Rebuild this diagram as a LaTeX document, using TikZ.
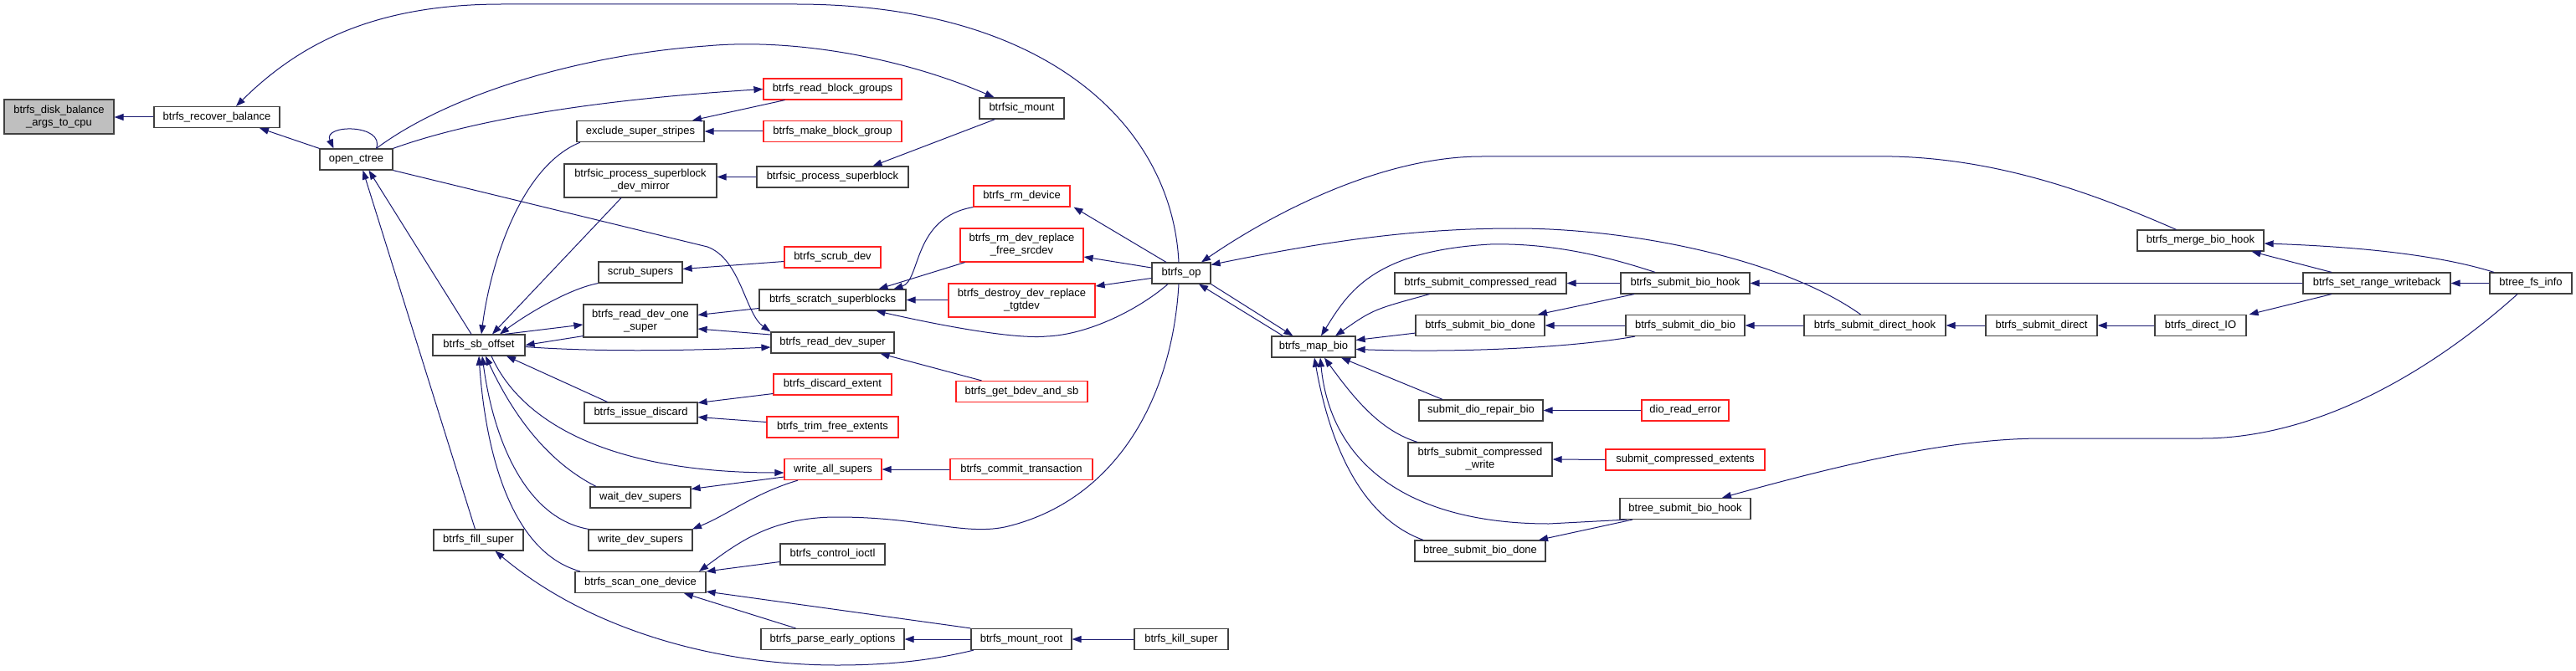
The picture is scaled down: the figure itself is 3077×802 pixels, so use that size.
\documentclass[tikz,border=0pt]{standalone}
\usepackage{fontspec}
\setmainfont{Liberation Sans}
\usetikzlibrary{arrows.meta,positioning}
\definecolor{cgBlue}{HTML}{191970}
\definecolor{cgBorder}{HTML}{404040}
\definecolor{cgTruncRed}{HTML}{FF2020}
\definecolor{cgRootFill}{HTML}{BFBFBF}
\tikzset{
    cgBoxBase/.style={
        rectangle,
        draw=cgBorder,
        fill=white,
        line width=1.2pt,
        inner sep=0pt,
        minimum height=25pt,
        align=center,
        font=\fontsize{13}{15}\selectfont
    },
    % node kinds
    cgNode/.style={cgBoxBase},
    cgTrunc/.style={cgBoxBase, draw=cgTruncRed},
    cgRoot/.style={cgBoxBase, fill=cgRootFill},
    % connectors
    cgEdge/.style={<-, >={Triangle[length=11pt,width=8pt]}, draw=cgBlue, line width=1pt}
}
\begin{document}
\begin{tikzpicture}[x=1pt,y=-1pt]
    \useasboundingbox (0,0) rectangle (3077,802);
    % column 1-3
    \node[cgRoot, minimum width=131pt, minimum height=41pt] (diskBalance) at (70.5,139.5) {btrfs\_disk\_balance\\\_args\_to\_cpu};
    \node[cgNode, minimum width=150pt] (recoverBalance) at (259,140) {btrfs\_recover\_balance};
    \node[cgNode, minimum width=87pt] (openCtree) at (425.5,190.5) {open\_ctree};
    \node[cgNode, minimum width=110pt] (sbOffset) at (572,412.5) {btrfs\_sb\_offset};
    \node[cgNode, minimum width=107pt] (fillSuper) at (571.5,645.5) {btrfs\_fill\_super};
    % column 4
    \node[cgNode, minimum width=152pt] (excludeStripes) at (765,157) {exclude\_super\_stripes};
    \node[cgNode, minimum width=182pt, minimum height=40pt] (devMirror) at (765,216) {btrfsic\_process\_superblock\\\_dev\_mirror};
    \node[cgNode, minimum width=100pt] (scrubSupers) at (765,325.5) {scrub\_supers};
    \node[cgNode, minimum width=136pt, minimum height=39pt] (readOneSuper) at (765,383.5) {btrfs\_read\_dev\_one\\\_super};
    \node[cgNode, minimum width=135pt] (issueDiscard) at (765.5,493.5) {btrfs\_issue\_discard};
    \node[cgNode, minimum width=120pt] (waitDevSupers) at (765,594.5) {wait\_dev\_supers};
    \node[cgNode, minimum width=124pt] (writeDevSupers) at (765,645.5) {write\_dev\_supers};
    \node[cgNode, minimum width=156pt] (scanOneDevice) at (765,696) {btrfs\_scan\_one\_device};
    % column 5
    \node[cgTrunc, minimum width=165pt] (readBlockGroups) at (994.5,106.5) {btrfs\_read\_block\_groups};
    \node[cgTrunc, minimum width=165pt] (makeBlockGroup) at (994.5,157) {btrfs\_make\_block\_group};
    \node[cgNode, minimum width=181pt] (procSuperblock) at (994.5,211.5) {btrfsic\_process\_superblock};
    \node[cgTrunc, minimum width=115pt] (scrubDev) at (994.5,307.5) {btrfs\_scrub\_dev};
    \node[cgNode, minimum width=175pt] (scratchSupers) at (994.5,358.5) {btrfs\_scratch\_superblocks};
    \node[cgNode, minimum width=147pt] (readDevSuper) at (994.5,409.5) {btrfs\_read\_dev\_super};
    \node[cgTrunc, minimum width=141pt] (discardExtent) at (994.5,459.5) {btrfs\_discard\_extent};
    \node[cgTrunc, minimum width=157pt] (trimFree) at (994.5,510.5) {btrfs\_trim\_free\_extents};
    \node[cgTrunc, minimum width=116pt] (writeAllSupers) at (995,561) {write\_all\_supers};
    \node[cgNode, minimum width=125pt] (controlIoctl) at (994.5,662.5) {btrfs\_control\_ioctl};
    \node[cgNode, minimum width=171pt] (parseEarly) at (994.5,764) {btrfs\_parse\_early\_options};
    % column 6
    \node[cgNode, minimum width=101pt] (sicMount) at (1220.5,129.5) {btrfsic\_mount};
    \node[cgTrunc, minimum width=115pt] (rmDevice) at (1220.5,234.5) {btrfs\_rm\_device};
    \node[cgTrunc, minimum width=147pt, minimum height=40pt] (freeSrcdev) at (1220.5,293) {btrfs\_rm\_dev\_replace\\\_free\_srcdev};
    \node[cgTrunc, minimum width=175pt, minimum height=40pt] (tgtdev) at (1220.5,359) {btrfs\_destroy\_dev\_replace\\\_tgtdev};
    \node[cgTrunc, minimum width=157pt] (getBdev) at (1220.5,468) {btrfs\_get\_bdev\_and\_sb};
    \node[cgTrunc, minimum width=170pt] (commitTrans) at (1220,561) {btrfs\_commit\_transaction};
    \node[cgNode, minimum width=120pt] (mountRoot) at (1220,764) {btrfs\_mount\_root};
    % column 7-8
    \node[cgNode, minimum width=70pt] (btrfsOp) at (1411,326.5) {btrfs\_op};
    \node[cgNode, minimum width=112pt] (killSuper) at (1411,764) {btrfs\_kill\_super};
    \node[cgNode, minimum width=100pt] (mapBio) at (1569,414.5) {btrfs\_map\_bio};
    % column 9
    \node[cgNode, minimum width=205pt] (compRead) at (1768.5,338.5) {btrfs\_submit\_compressed\_read};
    \node[cgNode, minimum width=154pt] (subBioDone) at (1768,389) {btrfs\_submit\_bio\_done};
    \node[cgNode, minimum width=148pt] (dioRepair) at (1769,490.5) {submit\_dio\_repair\_bio};
    \node[cgNode, minimum width=172pt, minimum height=40pt] (compWrite) at (1768,549) {btrfs\_submit\_compressed\\\_write};
    \node[cgNode, minimum width=156pt] (btreeBioDone) at (1768,658.5) {btree\_submit\_bio\_done};
    % column 10
    \node[cgNode, minimum width=154pt] (subBioHook) at (2013,338.5) {btrfs\_submit\_bio\_hook};
    \node[cgNode, minimum width=142pt] (subDioBio) at (2013,389) {btrfs\_submit\_dio\_bio};
    \node[cgTrunc, minimum width=104pt] (dioReadError) at (2013,490.5) {dio\_read\_error};
    \node[cgTrunc, minimum width=190pt] (compExtents) at (2013,549.5) {submit\_compressed\_extents};
    \node[cgNode, minimum width=156pt] (btreeBioHook) at (2013,608) {btree\_submit\_bio\_hook};
    % column 11-14
    \node[cgNode, minimum width=169pt] (directHook) at (2239.5,389) {btrfs\_submit\_direct\_hook};
    \node[cgNode, minimum width=133pt] (submitDirect) at (2438.5,389) {btrfs\_submit\_direct};
    \node[cgNode, minimum width=151pt] (mergeBioHook) at (2628.5,287.5) {btrfs\_merge\_bio\_hook};
    \node[cgNode, minimum width=109pt] (directIO) at (2628.5,389) {btrfs\_direct\_IO};
    \node[cgNode, minimum width=176pt] (setRangeWb) at (2839,338.5) {btrfs\_set\_range\_writeback};
    \node[cgNode, minimum width=98pt] (btreeFsInfo) at (3023,338.5) {btree\_fs\_info};

    % left part
    \draw[cgEdge] (diskBalance.east |- recoverBalance.west) -- (recoverBalance.west);
    \draw[cgEdge] ([xshift=51pt]recoverBalance.south) -- (openCtree.north west);
    \draw[cgEdge] ([xshift=23pt]recoverBalance.north) .. controls (360,50) and (450,5) .. (600,5) -- (950,5) .. controls (1250,5) and (1400,150) .. ([xshift=-3pt]btrfsOp.north);
    \draw[cgEdge] ([xshift=-27pt]openCtree.north) .. controls (385,148) and (460,148) .. ([xshift=24pt]openCtree.north);
    \draw[cgEdge] (readBlockGroups.west) .. controls (700,120) and (560,145) .. (openCtree.north east);
    \draw[cgEdge] ([xshift=-33pt]sicMount.north) .. controls (1080,70) and (950,45) .. (843,55) .. controls (700,65) and (540,110) .. ([xshift=24pt]openCtree.north);
    \draw[cgEdge] (readDevSuper.north west) .. controls (890,375) and (885,310) .. (845,295) -- (openCtree.south east);
    \draw[cgEdge] ([xshift=8pt]openCtree.south) -- ([xshift=-4pt]fillSuper.north);
    \draw[cgEdge] ([xshift=15pt]openCtree.south) -- ([xshift=-9pt]sbOffset.north);
    % superblock helpers
    \draw[cgEdge] ([xshift=62pt]excludeStripes.north) -- ([xshift=-57pt]readBlockGroups.south);
    \draw[cgEdge] (excludeStripes.east) -- (makeBlockGroup.west);
    \draw[cgEdge] ([xshift=3pt]sbOffset.north) .. controls (585,320) and (620,200) .. ([xshift=-72pt]excludeStripes.south);
    \draw[cgEdge] (devMirror.east |- procSuperblock.west) -- (procSuperblock.west);
    \draw[cgEdge] ([xshift=16pt]sbOffset.north) -- ([xshift=-23pt]devMirror.south);
    \draw[cgEdge] ([xshift=48pt]procSuperblock.north) -- ([xshift=-32pt]sicMount.south);
    \draw[cgEdge] ([yshift=4pt]scrubSupers.east) -- ([yshift=-5pt]scrubDev.west);
    \draw[cgEdge] ([xshift=25pt]sbOffset.north) .. controls (630,375) and (680,345) .. (scrubSupers.south west);
    \draw[cgEdge] ([yshift=-4.5pt]readOneSuper.west) -- ([xshift=31pt]sbOffset.north);
    \draw[cgEdge] (sbOffset.east) -- ([yshift=2pt]readOneSuper.south west);
    \draw[cgEdge] ([yshift=7pt]readOneSuper.east) -- ([yshift=-10pt]scratchSupers.west);
    \draw[cgEdge] ([yshift=-9.5pt]readOneSuper.east) -- ([yshift=9.5pt]readDevSuper.west);
    \draw[cgEdge] ([yshift=-5.5pt]readDevSuper.west) .. controls (800,420) and (700,420) .. ([yshift=-2pt]sbOffset.east);
    \draw[cgEdge] ([xshift=57pt]readDevSuper.south) -- ([xshift=-48pt]getBdev.north);
    \draw[cgEdge] ([xshift=73pt]scratchSupers.north) .. controls (1100,335) and (1090,260) .. (rmDevice.south west);
    \draw[cgEdge] ([xshift=55pt]scratchSupers.north) -- ([xshift=-68pt]freeSrcdev.south);
    \draw[cgEdge] (scratchSupers.east) -- (tgtdev.west |- scratchSupers.east);
    \draw[cgEdge] ([xshift=52pt]scratchSupers.south) .. controls (1150,395) and (1220,405) .. (1250,402) .. controls (1300,400) and (1360,370) .. ([xshift=-16pt]btrfsOp.south);
    % discard and super writing
    \draw[cgEdge] ([xshift=33pt]sbOffset.south) -- ([xshift=-40pt]issueDiscard.north);
    \draw[cgEdge] ([yshift=12pt]issueDiscard.east) -- ([yshift=-11pt]discardExtent.west);
    \draw[cgEdge] ([yshift=-5pt]issueDiscard.east) -- ([yshift=6pt]trimFree.west);
    \draw[cgEdge] ([yshift=-4pt]writeAllSupers.west) .. controls (720,565) and (620,500) .. ([xshift=15pt]sbOffset.south);
    \draw[cgEdge] ([xshift=8pt]sbOffset.south) .. controls (610,490) and (650,550) .. ([xshift=-53pt]waitDevSupers.north);
    \draw[cgEdge] ([xshift=4pt]sbOffset.south) .. controls (590,530) and (630,620) .. ([xshift=-62pt]writeDevSupers.north);
    \draw[cgEdge] (sbOffset.south) .. controls (580,540) and (610,660) .. ([xshift=-72pt]scanOneDevice.north);
    \draw[cgEdge] ([yshift=10pt]waitDevSupers.east) -- ([yshift=-9pt]writeAllSupers.west);
    \draw[cgEdge] ([xshift=62pt]writeDevSupers.north) .. controls (870,615) and (900,590) .. ([xshift=-42pt]writeAllSupers.south);
    \draw[cgEdge] (writeAllSupers.east) -- (commitTrans.west);
    % device scanning and mounting
    \draw[cgEdge] ([yshift=13pt]scanOneDevice.east) -- ([yshift=-9pt]controlIoctl.west);
    \draw[cgEdge] ([yshift=-11pt]scanOneDevice.east) -- (mountRoot.north west);
    \draw[cgEdge] ([xshift=52pt]scanOneDevice.south) -- ([xshift=-44pt]parseEarly.north);
    \draw[cgEdge] (parseEarly.east) -- (mountRoot.west);
    \draw[cgEdge] ([xshift=20pt]fillSuper.south) .. controls (700,750) and (850,795) .. (1000,795) .. controls (1080,795) and (1130,785) .. ([xshift=-57pt]mountRoot.south);
    \draw[cgEdge] (mountRoot.east) -- (killSuper.west);
    \draw[cgEdge] ([xshift=70pt]scanOneDevice.north) .. controls (880,650) and (920,618) .. (1000,618) .. controls (1100,618) and (1150,640) .. (1200,630) .. controls (1330,600) and (1400,480) .. ([xshift=-3pt]btrfsOp.south);
    % btrfs_op
    \draw[cgEdge] ([xshift=62pt]rmDevice.south) -- ([xshift=-18pt]btrfsOp.north);
    \draw[cgEdge] ([yshift=-14pt]freeSrcdev.east) -- ([yshift=6.5pt]btrfsOp.west);
    \draw[cgEdge] ([yshift=17pt]tgtdev.east) -- ([yshift=-6pt]btrfsOp.west);
    \draw[cgEdge] ([xshift=21pt]btrfsOp.south) -- ([xshift=14pt]mapBio.north west);
    \draw[cgEdge] ([xshift=26pt]mapBio.north west) -- (btrfsOp.south east);
    \draw[cgEdge] ([xshift=24pt]btrfsOp.north) .. controls (1520,255) and (1650,187) .. (1770,187) -- (2260,187) .. controls (2400,190) and (2520,240) .. ([xshift=-29pt]mergeBioHook.north);
    \draw[cgEdge] ([yshift=10pt]btrfsOp.east) .. controls (1600,285) and (1700,273) .. (1810,273) .. controls (1950,273) and (2130,310) .. ([xshift=-17pt]directHook.north);
    % btrfs_map_bio
    \draw[cgEdge] ([xshift=9pt]mapBio.north) .. controls (1610,350) and (1640,300) .. (1780,292) .. controls (1860,290) and (1930,310) .. ([xshift=-36pt]subBioHook.north);
    \draw[cgEdge] ([xshift=26pt]mapBio.north) .. controls (1640,370) .. ([xshift=-61pt]compRead.south);
    \draw[cgEdge] (compRead.east) -- (subBioHook.west);
    \draw[cgEdge] ([xshift=69pt]subBioDone.north) -- ([xshift=-61pt]subBioHook.south);
    \draw[cgEdge] (subBioDone.east) -- (subDioBio.west);
    \draw[cgEdge] ([yshift=8pt]mapBio.east) -- ([yshift=4pt]subBioDone.south west);
    \draw[cgEdge] ([yshift=-3pt]mapBio.east) .. controls (1750,422) and (1880,415) .. ([xshift=-60pt]subDioBio.south);
    \draw[cgEdge] (subDioBio.east) -- (directHook.west);
    \draw[cgEdge] (directHook.east) -- (submitDirect.west);
    \draw[cgEdge] (submitDirect.east) -- (directIO.west);
    \draw[cgEdge] ([xshift=33pt]mapBio.south) -- ([xshift=-46pt]dioRepair.north);
    \draw[cgEdge] (dioRepair.east) -- (dioReadError.west);
    \draw[cgEdge] ([xshift=13pt]mapBio.south) .. controls (1620,480) and (1650,515) .. ([xshift=-75pt]compWrite.north);
    \draw[cgEdge] (compWrite.east) -- (compExtents.west);
    \draw[cgEdge] ([xshift=8pt]mapBio.south) .. controls (1590,560) and (1690,626) .. (1850,626) -- ([xshift=-70pt]btreeBioHook.south);
    \draw[cgEdge] ([xshift=1pt]mapBio.south) .. controls (1590,540) and (1630,620) .. ([xshift=-68pt]btreeBioDone.north);
    \draw[cgEdge] ([xshift=70pt]btreeBioDone.north) -- ([xshift=-63pt]btreeBioHook.south);
    % right part
    \draw[cgEdge] ([xshift=58pt]directIO.north) -- ([xshift=-54pt]setRangeWb.south);
    \draw[cgEdge] (subBioHook.east) -- (setRangeWb.west);
    \draw[cgEdge] ([xshift=61pt]mergeBioHook.south) -- ([xshift=-54pt]setRangeWb.north);
    \draw[cgEdge] ([yshift=-3.5pt]mergeBioHook.east) .. controls (2850,296) and (2930,310) .. ([xshift=-44pt]btreeFsInfo.north);
    \draw[cgEdge] (setRangeWb.east) -- (btreeFsInfo.west);
    \draw[cgEdge] ([xshift=44pt]btreeBioHook.north) .. controls (2200,555) and (2330,524) .. (2440,524) -- (2630,524) .. controls (2780,524) and (2920,430) .. ([xshift=-16pt]btreeFsInfo.south);
\end{tikzpicture}
\end{document}
